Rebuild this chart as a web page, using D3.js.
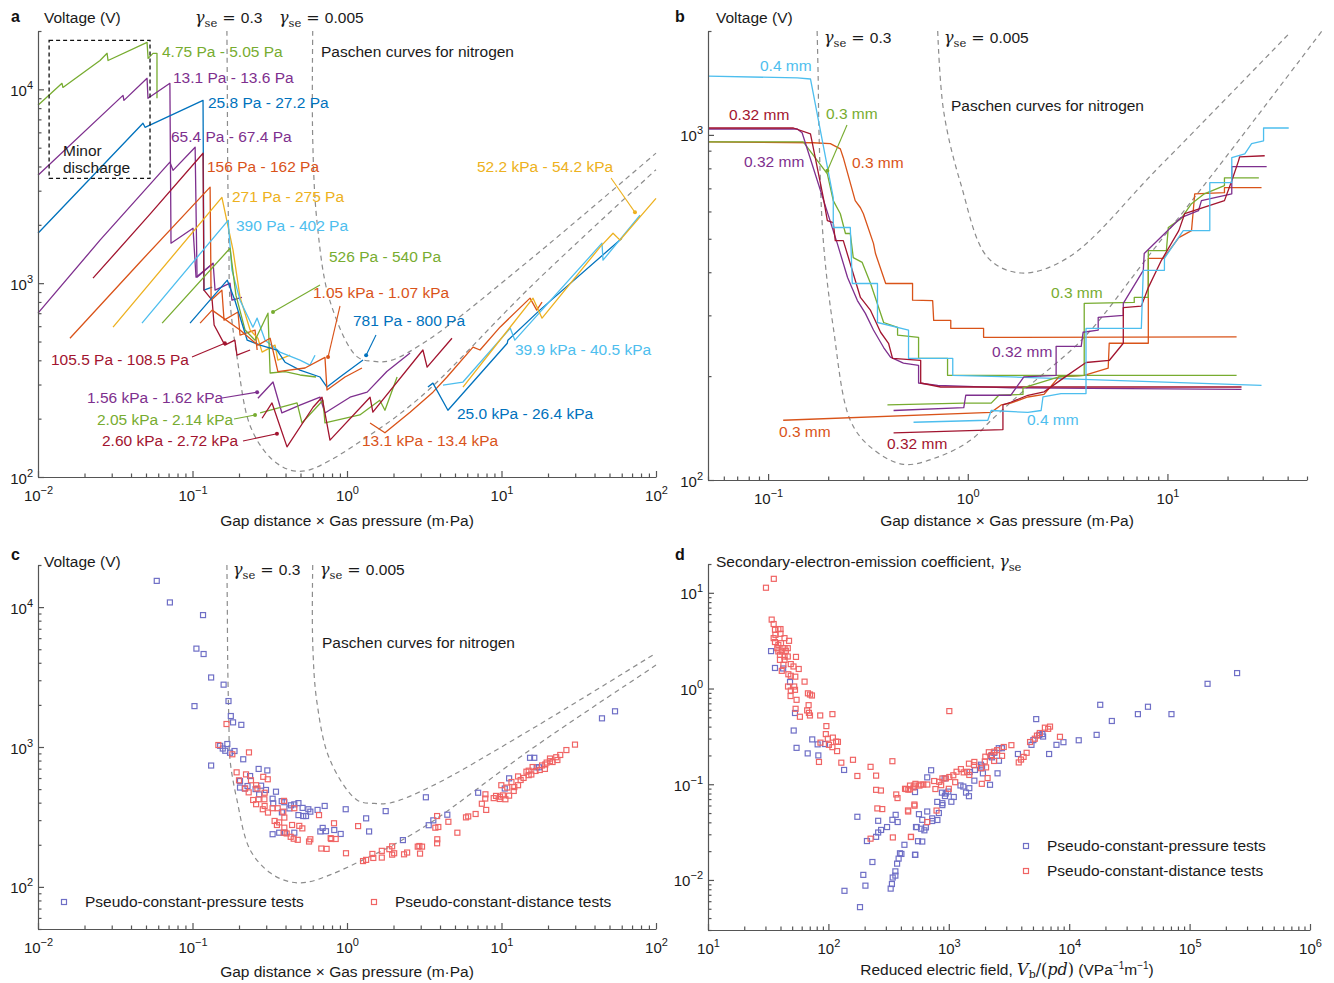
<!DOCTYPE html>
<html>
<head>
<meta charset="utf-8">
<script src="https://cdn.jsdelivr.net/npm/d3@7"></script>
<style>
  body { margin: 0; background: #fff; }
  text { font-family: "Liberation Sans", Arial, sans-serif; fill: #1a1a1a; }
  .axis path, .axis line { stroke: #555; stroke-width: 1.2; }
</style>
</head>
<body>
<svg id="fig" width="1334" height="983"></svg>
<script>
// ---------- data: panel a (pd in m·Pa, voltage in V) ----------
const a_475Pa = [[0.0100,8280],[0.0143,10740],[0.0145,10230],[0.0252,14090],[0.0280,15340],[0.0284,14090],[0.0508,17470],[0.0516,14450],[0.0555,15340],[0.0589,15340],[0.0589,8990]];
const a_131Pa = [[0.0100,3600],[0.0355,9310],[0.0360,8770],[0.0508,11400],[0.0515,8990],[0.0714,10740],[0.0726,1608],[0.1008,1920],[0.1054,1074],[0.136,1268]];
const a_258Pa = [[0.0100,1810],[0.0478,6680],[0.0493,6370],[0.117,8770],[0.1186,920],[0.134,954]];
const a_654Pa = [[0.0100,700],[0.0252,1667],[0.0714,4210],[0.0748,3820],[0.104,5030],[0.107,1074],[0.136,1268],[0.140,920],[0.175,1000],[0.180,817],[0.209,845]];
const a_1055Pa = [[0.0227,1061],[0.0531,2270],[0.117,4680],[0.1186,920],[0.134,817],[0.138,608],[0.162,479],[0.188,508],[0.194,425],[0.236,452]];
const a_156Pa = [[0.0161,520],[0.0457,1283],[0.130,3130],[0.132,817],[0.155,920],[0.160,645],[0.197,710],[0.203,540],[0.254,573],[0.262,452]];
const a_271Pa = [[0.0306,593],[0.155,2770],[0.183,1480],[0.203,847],[0.236,573],[0.265,520],[0.282,441],[0.342,479],[0.357,401],[0.428,425]];
const a_390Pa = [[0.0471,622],[0.170,2110],[0.180,1167],[0.203,817],[0.246,593],[0.262,660],[0.295,508],[0.368,441],[0.496,401],[0.576,378],[0.621,425]];
const a_526Pa = [[0.0636,622],[0.175,1514],[0.191,867],[0.219,573],[0.254,508],[0.308,700],[0.318,344],[0.397,350],[0.496,336],[0.630,328]];
const a_781Pa = [[0.0964,622],[0.168,1036],[0.188,817],[0.226,508],[0.274,479],[0.352,452],[0.397,391],[0.496,356],[0.669,328],[0.742,291],[0.901,328],[1.27,401]];
const a_105kPa = [[0.112,622],[0.134,726],[0.203,573],[0.265,479],[0.318,520],[0.357,350],[0.535,365],[0.720,414],[0.742,281],[0.971,328],[1.25,365]];
const a_156kPa = [[0.265,255],[0.332,309],[0.379,214],[0.496,235],[0.669,258],[0.720,214],[1.046,258],[1.35,274],[1.81,350],[2.56,436]];
const a_205kPa = [[0.274,214],[0.475,241],[0.511,190],[0.699,249],[0.720,190],[1.21,209],[1.63,249],[1.76,221],[2.11,328]];
const a_260kPa = [[0.282,201],[0.327,241],[0.409,143],[0.603,229],[0.689,258],[0.776,155],[1.41,258],[1.47,216],[3.10,452],[3.30,369],[4.78,520]];
const a_131kPa = [[1.41,190],[1.76,169],[2.56,216],[3.60,274],[4.44,328],[6.54,468],[7.26,452],[9.78,593],[15.3,837],[16.9,726],[18.3,798]];
const a_250kPa = [[3.34,291],[3.60,305],[4.50,221],[10.9,490],[11.0,508],[17.7,726],[60.2,1706]];
const a_399kPa = [[4.18,298],[5.63,309],[11.4,586],[12.2,508],[44.7,1608],[45.4,1314],[78.8,2240]];
const a_522kPa = [[5.63,291],[16.0,837],[18.3,660],[43.4,1535],[52.7,1810],[58.5,1667],[100,2740]];

// Paschen curves (panels a and c)
const paschen03 = [[0.167,20000],[0.168,10000],[0.169,4000],[0.172,1500],[0.175,808],[0.194,418],[0.236,184],[0.318,126],[0.428,108.6],[0.55,108],[0.776,121.8],[1.27,156],[2.0,200],[3.45,286],[15.3,952],[100,3850]];
const paschen0005 = [[0.600,20000],[0.600,5500],[0.64,2060],[0.776,808],[1.16,418],[1.5,395],[1.9,398],[3.45,518],[15.3,1322],[100,4690]];

// ---------- data: panel b ----------
const b_04_dec = [[0.05,1481],[0.140,1462],[0.163,1452],[0.212,658],[0.212,539],[0.258,539],[0.264,371],[0.353,371],[0.353,286],[0.505,272],[0.505,225],[0.841,225],[0.841,201],[1.64,199],[29.6,188]];
const b_032r_dec = [[0.05,1047],[0.134,1047],[0.163,1007],[0.189,658],[0.198,564],[0.212,557],[0.217,494],[0.238,494],[0.290,338],[0.326,310],[0.366,268],[0.401,249],[0.420,225],[0.581,222],[0.581,191],[0.731,186],[23.5,186]];
const b_032p_dec = [[0.05,1040],[0.140,1040],[0.148,1014],[0.222,485],[0.250,386],[0.280,331],[0.307,304],[0.337,272],[0.379,242],[0.410,227],[0.476,218],[0.567,215],[0.567,191],[0.707,188],[1.64,185],[23.5,183]];
const b_03g_dec = [[0.05,955],[0.150,955],[0.198,771],[0.212,645],[0.230,591],[0.244,518],[0.258,518],[0.267,441],[0.296,427],[0.326,371],[0.379,286],[0.445,277],[0.445,263],[0.567,259],[0.567,225],[0.792,225],[0.792,201],[22.2,201]];
const b_03o_dec = [[0.05,955],[0.168,949],[0.205,943],[0.230,911],[0.238,859],[0.273,645],[0.290,615],[0.300,591],[0.337,485],[0.345,453],[0.388,371],[0.529,371],[0.529,332],[0.667,331],[0.675,290],[0.822,290],[0.822,275],[1.20,275],[1.20,259],[22.2,260]];
const b_03o_inc = [[0.119,149],[1.31,157],[1.47,165],[1.64,167],[2.00,174],[2.41,177],[2.86,199],[3.83,201],[5.05,211],[5.11,249],[8.02,249],[8.02,439],[9.55,439],[11.4,504],[13.2,528],[13.7,675],[19.3,680],[19.3,703],[29.6,703]];
const b_03g_inc = [[0.396,165],[0.955,167],[1.31,167],[1.43,176],[1.89,177],[1.89,185],[2.86,199],[3.83,201],[3.83,325],[6.82,327],[6.82,338],[8.02,338],[8.02,462],[9.88,462],[10.1,539],[11.7,572],[13.2,632],[15.3,675],[19.3,713],[19.3,751],[28.7,751]];
const b_032p_inc = [[0.425,159],[0.955,162],[0.977,176],[1.64,176],[1.91,199],[2.77,201],[2.77,244],[3.70,244],[3.78,268],[4.50,272],[4.50,296],[6.01,300],[6.01,325],[7.57,405],[7.65,453],[11.7,576],[14.3,603],[14.8,645],[21.0,675],[21.0,809],[31.4,809]];
const b_032r_inc = [[0.425,137],[1.50,140],[1.50,165],[1.64,168],[2.00,176],[2.41,180],[3.00,197],[3.91,219],[5.11,222],[6.01,249],[6.01,316],[7.40,319],[8.02,361],[9.33,433],[11.4,528],[12.2,591],[19.3,645],[21.0,736],[22.7,841],[23.0,864],[30.7,870]];
const b_04_inc = [[0.535,147],[1.26,149],[1.31,159],[2.00,157],[2.33,159],[2.38,174],[2.93,178],[3.91,178],[3.91,275],[7.40,275],[7.57,405],[9.66,405],[9.66,439],[12.0,528],[16.3,528],[16.3,727],[21.0,727],[21.0,859],[24.4,881],[26.4,943],[30.3,961],[30.3,1047],[40.5,1047]];
const paschenB03 = [[0.176,2000],[0.178,1500],[0.18,1000],[0.189,494],[0.212,277],[0.258,149],[0.326,124.5],[0.476,111],[0.707,116.5],[1.035,130.5],[1.31,149],[2.0,186],[3.83,259],[8.02,445],[20,875],[59.4,2000]];
const paschenB0005 = [[0.707,2000],[0.757,1172],[0.922,722],[1.26,441],[1.85,398],[3.18,441],[9.02,804],[40.5,1960]];

// ---------- data: panel c ----------
const c_pressure = [[0.0587,15400],[0.0714,10800],[0.117,8770],[0.106,5050],[0.118,4620],[0.132,3140],[0.159,2790],[0.103,1960],[0.171,2130],[0.177,1665],[0.183,1500],[0.207,1440],[0.168,1050],[0.151,1020],[0.157,975],[0.163,940],[0.187,936],[0.175,910],[0.132,737],[0.213,817],[0.268,697],[0.305,680],[0.236,620],[0.203,571],[0.203,513],[0.218,505],[0.227,526],[0.256,500],[0.278,529],[0.299,493],[0.270,458],[0.347,479],[0.330,427],[0.333,396],[0.378,410],[0.393,403],[0.379,341],[0.434,383],[0.456,389],[0.485,397],[0.516,367],[0.424,364],[0.485,326],[0.521,321],[0.543,321],[0.562,359],[0.579,345],[0.645,355],[0.717,379],[0.981,359],[0.330,238],[0.364,244],[0.397,244],[0.456,244],[0.672,249],[0.696,264],[0.731,250],[0.827,255],[0.910,239],[1.33,309],[1.39,249],[1.78,348],[3.24,437],[2.30,216],[3.38,276],[3.62,299],[4.46,328],[7.06,471],[11.2,597],[10.5,505],[15.3,837],[16.3,837],[16.9,716],[17.5,716],[44.7,1603],[54.3,1800]];
const c_distance = [[0.166,1460],[0.147,1033],[0.181,887],[0.232,915],[0.193,659],[0.222,637],[0.200,578],[0.239,578],[0.287,612],[0.307,588],[0.258,533],[0.219,505],[0.231,474],[0.263,505],[0.293,471],[0.247,418],[0.258,390],[0.268,423],[0.292,423],[0.293,379],[0.285,359],[0.308,340],[0.330,365],[0.356,365],[0.391,412],[0.387,345],[0.456,365],[0.340,296],[0.364,289],[0.393,313],[0.352,277],[0.393,265],[0.441,277],[0.491,273],[0.514,262],[0.389,244],[0.407,241],[0.432,228],[0.452,221],[0.480,217],[0.579,219],[0.568,211],[0.659,326],[0.682,188],[0.738,187],[0.784,223],[0.845,220],[0.824,285],[0.985,174],[1.18,272],[1.46,172],[1.27,153],[1.33,156],[0.791,220],[1.48,161],[1.68,181],[1.68,162],[1.88,186],[1.96,170],[1.96,195],[2.02,174],[2.34,171],[2.45,176],[2.87,194],[2.94,196],[3.06,194],[2.97,173],[3.73,265],[3.90,268],[3.83,321],[3.84,219],[3.83,205],[4.53,292],[5.18,244],[5.89,314],[6.09,319],[6.80,332],[7.96,355],[7.46,393],[7.85,428],[7.87,459],[8.90,431],[9.22,447],[9.74,425],[9.78,441],[10.2,451],[10.6,423],[11.2,449],[9.97,533],[10.9,513],[11.6,562],[12.0,485],[12.1,517],[12.8,533],[12.8,616],[13.3,581],[13.9,601],[14.5,666],[15.0,677],[15.0,629],[15.6,636],[15.9,719],[16.6,674],[17.7,685],[18.3,738],[19.1,697],[19.2,750],[19.6,774],[20.6,827],[20.6,792],[21.4,781],[22.6,845],[23.0,807],[24.0,877],[26.3,951],[29.9,1040]];

// ---------- data: panel d (reduced field, gamma_se) ----------
const d_pressure = [[33.4,2.46],[36.0,1.64],[42.1,1.62],[48.0,1.17],[52.8,0.555],[51.5,0.364],[54.4,0.240],[73.4,0.294],[81.4,0.261],[93.7,0.263],[67.3,0.210],[82.5,0.200],[135,0.141],[174,0.0457],[259,0.0415],[307,0.0357],[274,0.0333],[259,0.0313],[249,0.0282],[209,0.0255],[362,0.0479],[340,0.0425],[376,0.0403],[428,0.0233],[404,0.0187],[383,0.0167],[372,0.0148],[360,0.0123],[360,0.0111],[342,0.0106],[337,0.00907],[329,0.00812],[232,0.0154],[195,0.0113],[203,0.00872],[136,0.00770],[183,0.00520],[534,0.0357],[524,0.0183],[393,0.0190],[527,0.0183],[555,0.0254],[602,0.0252],[541,0.0357],[590,0.0343],[627,0.0330],[645,0.0354],[602,0.0425],[565,0.0487],[662,0.0519],[728,0.0440],[728,0.0413],[804,0.0423],[827,0.0500],[802,0.0654],[884,0.0605],[884,0.0634],[524,0.0829],[662,0.118],[713,0.140],[877,0.0817],[929,0.0752],[943,0.0800],[991,0.0838],[1050,0.0656],[1100,0.0736],[1250,0.0971],[1320,0.0946],[1390,0.0818],[1470,0.0750],[1480,0.0910],[923,0.115],[1630,0.109],[1650,0.141],[1490,0.134],[1850,0.160],[1890,0.153],[1920,0.130],[2200,0.0987],[2540,0.130],[2280,0.191],[2390,0.213],[2600,0.238],[2760,0.238],[2240,0.197],[2610,0.176],[3750,0.207],[4860,0.258],[5040,0.289],[5320,0.479],[6070,0.315],[5990,0.334],[5640,0.328],[6810,0.207],[7840,0.258],[8960,0.275],[12000,0.288],[16900,0.328],[18100,0.676],[22600,0.458],[37200,0.540],[45100,0.645],[70700,0.540],[141000,1.12],[248000,1.45]];
const d_distance = [[35.2,14.0],[30.3,11.3],[33.8,5.25],[35.1,4.72],[36.0,4.11],[38.4,4.18],[40.0,4.18],[36.3,3.64],[40.0,3.73],[35.1,3.36],[43.2,3.36],[47.1,3.15],[36.0,3.06],[38.4,2.86],[40.4,2.98],[37.6,2.64],[43.2,2.64],[46.0,2.64],[38.4,2.44],[41.0,2.44],[44.3,2.48],[39.6,2.25],[43.2,2.16],[46.0,2.16],[39.6,1.99],[43.2,1.99],[53.8,2.14],[42.3,1.77],[48.7,1.80],[51.3,1.70],[56.7,1.60],[41.0,1.53],[46.5,1.41],[48.7,1.36],[53.1,1.33],[63.4,1.18],[46.2,1.05],[52.0,1.05],[48.7,0.953],[52.8,0.969],[48.5,0.835],[67.6,0.891],[70.3,0.866],[73.0,0.846],[54.4,0.762],[68.5,0.670],[53.4,0.614],[66.6,0.591],[68.9,0.557],[70.3,0.523],[58.0,0.507],[85.5,0.523],[108,0.540],[96.2,0.405],[95.2,0.334],[98.9,0.299],[109,0.307],[116,0.279],[120,0.277],[85.9,0.272],[101,0.258],[108,0.244],[118,0.222],[83.5,0.171],[128,0.168],[160,0.180],[340,0.174],[224,0.152],[174,0.122],[249,0.123],[249,0.0874],[273,0.0860],[442,0.0891],[475,0.0885],[518,0.0968],[570,0.0968],[366,0.0782],[375,0.0717],[255,0.0559],[280,0.0550],[460,0.0519],[519,0.0597],[224,0.0270],[343,0.0278],[485,0.0282],[1010,0.581],[433,0.0896],[461,0.0878],[476,0.0968],[528,0.101],[509,0.0926],[588,0.0993],[614,0.0993],[663,0.0993],[756,0.108],[774,0.0891],[834,0.106],[864,0.0977],[885,0.115],[945,0.115],[1010,0.119],[1090,0.124],[1130,0.105],[1160,0.135],[1260,0.144],[1330,0.133],[1420,0.135],[1480,0.125],[1470,0.164],[1630,0.171],[1620,0.158],[1850,0.147],[2040,0.150],[1990,0.173],[2010,0.194],[2150,0.216],[2260,0.202],[2390,0.219],[2520,0.227],[2860,0.245],[2770,0.198],[2380,0.175],[2100,0.116],[1880,0.101],[3310,0.256],[3810,0.169],[3980,0.181],[4180,0.193],[4430,0.213],[4730,0.276],[5180,0.299],[5400,0.322],[5700,0.343],[6280,0.390],[6690,0.379],[6930,0.400],[8380,0.313],[518,0.0614],[458,0.0532],[485,0.0281],[662,0.0403],[791,0.0531],[1000,0.0896]];

// ---------- setup ----------
const C = {green:"#77AC30", purple:"#7E2F8E", blue:"#0072BD", orange:"#D95319",
           yellow:"#EDB120", lblue:"#4DBEEE", dred:"#A2142F"};
const FS = 15.5;
const svg = d3.select("#fig");

const xA = d3.scaleLog().domain([0.01, 100]).range([38, 656]);
const yA = d3.scaleLog().domain([100, 20000]).range([477, 31]);
const xB = d3.scaleLog().domain([0.05, 50]).range([708, 1307]);
const yB = d3.scaleLog().domain([100, 2000]).range([480, 31]);
const xC = d3.scaleLog().domain([0.01, 100]).range([38, 656]);
const yC = d3.scaleLog().domain([50, 20000]).range([929, 565]);
const xD = d3.scaleLog().domain([10, 1e6]).range([708, 1310]);
const yD = d3.scaleLog().domain([0.003, 20]).range([930, 564]);

const isMajor = v => Math.abs(Math.log10(v) - Math.round(Math.log10(v))) < 1e-6;

function logTicks(lo, hi) {
  const out = [];
  for (let e = Math.floor(Math.log10(lo)); e <= Math.ceil(Math.log10(hi)); e++) {
    for (let m = 1; m <= 9; m++) {
      const v = m * Math.pow(10, e);
      if (v >= lo * 0.999 && v <= hi * 1.001) out.push(v);
    }
  }
  return out;
}

function expLabel(sel, v) {
  const e = Math.round(Math.log10(v));
  sel.append("tspan").text("10");
  sel.append("tspan").attr("dy", -7).attr("font-size", 11)
     .text(e < 0 ? "\u2212" + (-e) : e);
}

function drawAxes(x, y) {
  const xa = svg.append("g").attr("class", "axis")
    .attr("transform", `translate(0,${y.range()[0]})`)
    .call(d3.axisBottom(x).tickValues(logTicks(...x.domain()))
      .tickSizeOuter(0).tickSizeInner(-6).tickFormat(""));
  xa.selectAll(".tick text").remove();
  xa.selectAll(".tick line").attr("y2", d => isMajor(d) ? -6 : -3.5);
  xa.selectAll(".tick").filter(isMajor).append("text")
    .attr("y", 24).attr("text-anchor", "middle").attr("font-size", 15)
    .each(function(d) { expLabel(d3.select(this), d); });

  const ya = svg.append("g").attr("class", "axis")
    .attr("transform", `translate(${x.range()[0]},0)`)
    .call(d3.axisLeft(y).tickValues(logTicks(...y.domain()))
      .tickSizeOuter(0).tickSizeInner(-6).tickFormat(""));
  ya.selectAll(".tick text").remove();
  ya.selectAll(".tick line").attr("x2", d => isMajor(d) ? 6 : 3.5);
  ya.selectAll(".tick").filter(isMajor).append("text")
    .attr("x", -5).attr("y", 6).attr("text-anchor", "end").attr("font-size", 15)
    .each(function(d) { expLabel(d3.select(this), d); });
}

function txt(s, x, y, color, opts = {}) {
  return svg.append("text").attr("x", x).attr("y", y)
    .attr("font-size", opts.size || FS)
    .attr("font-weight", opts.bold ? "bold" : null)
    .attr("text-anchor", opts.anchor || "start")
    .style("fill", color || "#1a1a1a").text(s);
}

function gammaLabel(x, y, val) {
  const t = svg.append("text").attr("x", x).attr("y", y).attr("font-size", 16);
  t.append("tspan").attr("font-family", "DejaVu Serif").attr("font-style", "italic").text("\u03b3");
  t.append("tspan").attr("font-family", "DejaVu Serif").attr("font-size", 11.5).attr("dy", 4).text("se");
  t.append("tspan").attr("font-family", "DejaVu Serif").attr("dy", -4).text(" = ");
  t.append("tspan").attr("font-size", FS).text(val);
}

function arrow(tail, tip, x, y, color) {
  const px = x(tip[0]), py = y(tip[1]);
  svg.append("line").attr("x1", tail[0]).attr("y1", tail[1]).attr("x2", px).attr("y2", py)
    .attr("stroke", color).attr("stroke-width", 1.1);
  svg.append("circle").attr("cx", px).attr("cy", py).attr("r", 2).attr("fill", color);
}

function paschen(pts, x, y) {
  const line = d3.line().x(d => x(d[0])).y(d => y(d[1])).curve(d3.curveCatmullRom.alpha(0.5));
  svg.append("path").attr("d", line(pts)).attr("fill", "none")
    .attr("stroke", "#8c8c8c").attr("stroke-width", 1.2).attr("stroke-dasharray", "5,4");
}

function series(list, x, y) {
  const line = d3.line().x(d => x(d[0])).y(d => y(d[1]));
  svg.append("g").selectAll("path").data(list).join("path")
    .attr("d", d => line(d.pts)).attr("fill", "none")
    .attr("stroke", d => d.c).attr("stroke-width", 1.3).attr("stroke-linejoin", "round");
}

function squares(pts, x, y, color) {
  svg.append("g").selectAll("rect").data(pts).join("rect")
    .attr("x", d => x(d[0]) - 2.5).attr("y", d => y(d[1]) - 2.5)
    .attr("width", 5).attr("height", 5).attr("fill", "none")
    .attr("stroke", color).attr("stroke-width", 1.2);
}

const BLUE_SQ = "#6f6fc6", RED_SQ = "#f06464";

// ---------- panel a ----------
paschen(paschen03, xA, yA);
paschen(paschen0005, xA, yA);
series([
  {pts: a_475Pa, c: C.green}, {pts: a_131Pa, c: C.purple}, {pts: a_258Pa, c: C.blue},
  {pts: a_654Pa, c: C.purple}, {pts: a_1055Pa, c: C.dred}, {pts: a_156Pa, c: C.orange},
  {pts: a_271Pa, c: C.yellow}, {pts: a_390Pa, c: C.lblue}, {pts: a_526Pa, c: C.green},
  {pts: a_781Pa, c: C.blue}, {pts: a_105kPa, c: C.orange}, {pts: a_156kPa, c: C.purple},
  {pts: a_205kPa, c: C.green}, {pts: a_260kPa, c: C.dred}, {pts: a_131kPa, c: C.orange},
  {pts: a_250kPa, c: C.blue}, {pts: a_399kPa, c: C.lblue}, {pts: a_522kPa, c: C.yellow}
], xA, yA);
drawAxes(xA, yA);

// minor discharge box
svg.append("rect")
  .attr("x", xA(0.0118)).attr("y", yA(17900))
  .attr("width", xA(0.0531) - xA(0.0118)).attr("height", yA(3470) - yA(17900))
  .attr("fill", "none").attr("stroke", "#111").attr("stroke-width", 1.3).attr("stroke-dasharray", "4,3");
txt("Minor", 63, 156);
txt("discharge", 63, 173);

txt("a", 11, 22, "#111", {bold: true, size: 16});
txt("Voltage (V)", 44, 23);
gammaLabel(195, 23, "0.3");
gammaLabel(279, 23, "0.005");
txt("Paschen curves for nitrogen", 321, 57);
txt("Gap distance \u00d7 Gas pressure (m\u00b7Pa)", 347, 526, "#1a1a1a", {anchor: "middle"});

txt("4.75 Pa - 5.05 Pa", 162, 57, C.green);
txt("13.1 Pa - 13.6 Pa", 173, 83, C.purple);
txt("25.8 Pa - 27.2 Pa", 208, 108, C.blue);
txt("65.4 Pa - 67.4 Pa", 171, 142, C.purple);
txt("156 Pa - 162 Pa", 207, 172, C.orange);
txt("271 Pa - 275 Pa", 232, 202, C.yellow);
txt("390 Pa - 402 Pa", 236, 231, C.lblue);
txt("526 Pa - 540 Pa", 329, 262, C.green);
txt("1.05 kPa - 1.07 kPa", 313, 298, C.orange);
txt("781 Pa - 800 Pa", 353, 326, C.blue);
txt("52.2 kPa - 54.2 kPa", 477, 172, C.yellow);
txt("39.9 kPa - 40.5 kPa", 515, 355, C.lblue);
txt("105.5 Pa - 108.5 Pa", 51, 365, C.dred);
txt("1.56 kPa - 1.62 kPa", 87, 403, C.purple);
txt("2.05 kPa - 2.14 kPa", 97, 425, C.green);
txt("2.60 kPa - 2.72 kPa", 102, 446, C.dred);
txt("25.0 kPa - 26.4 kPa", 457, 419, C.blue);
txt("13.1 kPa - 13.4 kPa", 362, 446, C.orange);

arrow([320, 285], [0.332, 710], xA, yA, C.green);
arrow([340, 306], [0.754, 416], xA, yA, C.orange);
arrow([376, 335], [1.33, 425], xA, yA, C.blue);
arrow([611, 178], [73.1, 2320], xA, yA, C.yellow);
arrow([192, 357], [0.162, 490], xA, yA, C.dred);
arrow([222, 398], [0.262, 274], xA, yA, C.purple);
arrow([234, 419], [0.254, 209], xA, yA, C.green);
arrow([243, 441], [0.352, 167], xA, yA, C.dred);

// ---------- panel b ----------
paschen(paschenB03, xB, yB);
paschen(paschenB0005, xB, yB);
series([
  {pts: b_03o_dec, c: C.orange}, {pts: b_03g_dec, c: C.green}, {pts: b_032p_dec, c: C.purple},
  {pts: b_032r_dec, c: C.dred}, {pts: b_04_dec, c: C.lblue},
  {pts: b_03o_inc, c: C.orange}, {pts: b_03g_inc, c: C.green}, {pts: b_032p_inc, c: C.purple},
  {pts: b_032r_inc, c: C.dred}, {pts: b_04_inc, c: C.lblue}
], xB, yB);
drawAxes(xB, yB);

txt("b", 675, 22, "#111", {bold: true, size: 16});
txt("Voltage (V)", 716, 23);
gammaLabel(824, 43, "0.3");
gammaLabel(944, 43, "0.005");
txt("Paschen curves for nitrogen", 951, 111);
txt("Gap distance \u00d7 Gas pressure (m\u00b7Pa)", 1007, 526, "#1a1a1a", {anchor: "middle"});

txt("0.4 mm", 760, 71, C.lblue);
txt("0.32 mm", 729, 120, C.dred);
txt("0.3 mm", 826, 119, C.green);
txt("0.32 mm", 744, 167, C.purple);
txt("0.3 mm", 852, 168, C.orange);
txt("0.3 mm", 1051, 298, C.green);
txt("0.32 mm", 992, 357, C.purple);
txt("0.3 mm", 779, 437, C.orange);
txt("0.32 mm", 887, 449, C.dred);
txt("0.4 mm", 1027, 425, C.lblue);
arrow([847, 125], [0.198, 787], xB, yB, C.green);

// ---------- panel c ----------
paschen(paschen03, xC, yC);
paschen(paschen0005, xC, yC);
squares(c_pressure, xC, yC, BLUE_SQ);
squares(c_distance, xC, yC, RED_SQ);
drawAxes(xC, yC);

txt("c", 11, 560, "#111", {bold: true, size: 16});
txt("Voltage (V)", 44, 567);
gammaLabel(233, 575, "0.3");
gammaLabel(320, 575, "0.005");
txt("Paschen curves for nitrogen", 322, 648);
txt("Gap distance \u00d7 Gas pressure (m\u00b7Pa)", 347, 977, "#1a1a1a", {anchor: "middle"});

function legendItem(x, y, color, label) {
  svg.append("rect").attr("x", x - 2.5).attr("y", y - 2.5).attr("width", 5).attr("height", 5)
    .attr("fill", "none").attr("stroke", color).attr("stroke-width", 1.2);
  txt(label, x + 21, y + 5);
}
legendItem(64, 902, BLUE_SQ, "Pseudo-constant-pressure tests");
legendItem(374, 902, RED_SQ, "Pseudo-constant-distance tests");

// ---------- panel d ----------
squares(d_pressure, xD, yD, BLUE_SQ);
squares(d_distance, xD, yD, RED_SQ);
drawAxes(xD, yD);

txt("d", 675, 560, "#111", {bold: true, size: 16});
const dt = txt("Secondary-electron-emission coefficient, ", 716, 567);
dt.append("tspan").attr("font-family", "DejaVu Serif").attr("font-style", "italic").attr("font-size", 16).text("\u03b3");
dt.append("tspan").attr("font-family", "DejaVu Serif").attr("font-size", 11.5).attr("dy", 4).text("se");

const xl = svg.append("text").attr("x", 1007).attr("y", 975).attr("text-anchor", "middle").attr("font-size", FS);
xl.append("tspan").text("Reduced electric field, ");
xl.append("tspan").attr("font-family", "DejaVu Serif").attr("font-style", "italic").attr("font-size", 16).text("V");
xl.append("tspan").attr("font-family", "DejaVu Serif").attr("font-size", 11).attr("dy", 3).text("b");
xl.append("tspan").attr("font-family", "DejaVu Serif").attr("font-size", 16).attr("dy", -3).text("/(");
xl.append("tspan").attr("font-family", "DejaVu Serif").attr("font-style", "italic").attr("font-size", 16).text("pd");
xl.append("tspan").attr("font-family", "DejaVu Serif").attr("font-size", 16).text(")");
xl.append("tspan").text(" (VPa");
xl.append("tspan").attr("font-size", 10).attr("dy", -6).text("\u22121");
xl.append("tspan").attr("dy", 6).text("m");
xl.append("tspan").attr("font-size", 10).attr("dy", -6).text("\u22121");
xl.append("tspan").attr("dy", 6).text(")");

legendItem(1026, 846, BLUE_SQ, "Pseudo-constant-pressure tests");
legendItem(1026, 871, RED_SQ, "Pseudo-constant-distance tests");
</script>
</body>
</html>
